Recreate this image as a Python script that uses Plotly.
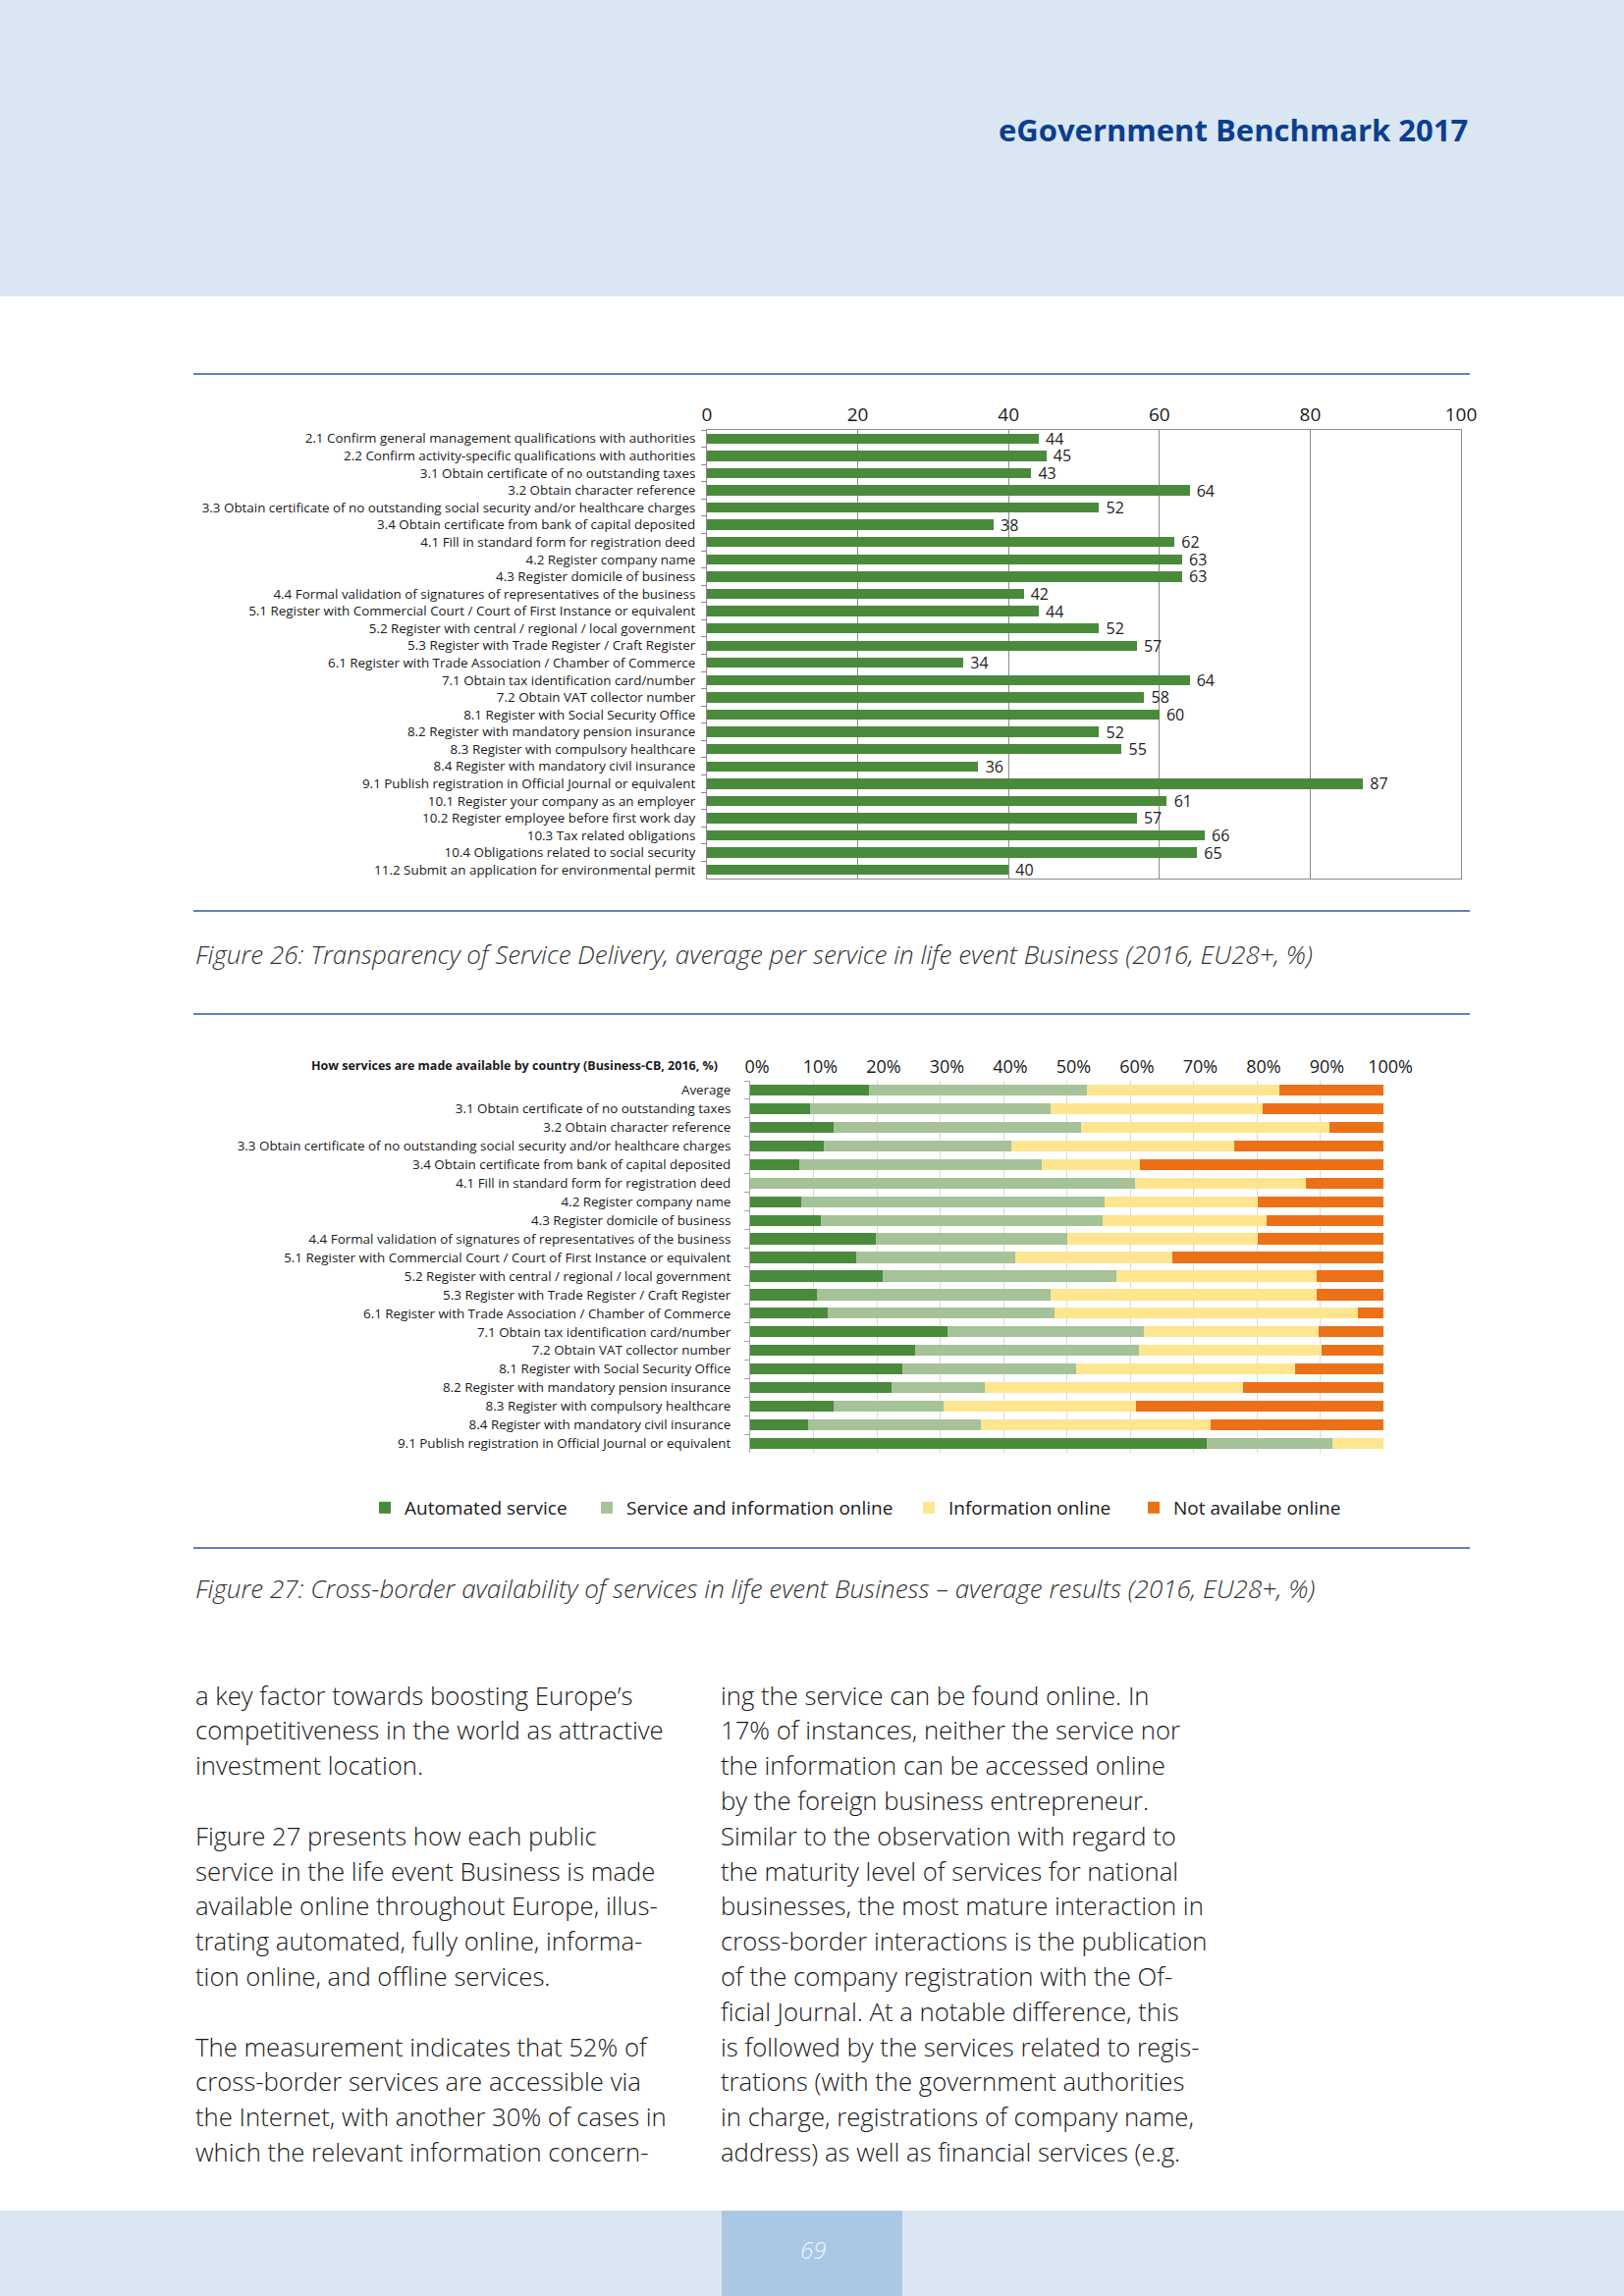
import plotly.graph_objects as go

W, H = 1654, 2339

# ---------------- Data: Figure 26 ----------------
services_transparency = [
    "2.1 Confirm general management qualifications with authorities",
    "2.2 Confirm activity-specific qualifications with authorities",
    "3.1 Obtain certificate of no outstanding taxes",
    "3.2 Obtain character reference",
    "3.3 Obtain certificate of no outstanding social security and/or healthcare charges",
    "3.4 Obtain certificate from bank of capital deposited",
    "4.1 Fill in standard form for registration deed",
    "4.2 Register company name",
    "4.3 Register domicile of business",
    "4.4 Formal validation of signatures of representatives of the business",
    "5.1 Register with Commercial Court / Court of First Instance or equivalent",
    "5.2 Register with central / regional / local government",
    "5.3 Register with Trade Register / Craft Register",
    "6.1 Register with Trade Association / Chamber of Commerce",
    "7.1 Obtain tax identification card/number",
    "7.2 Obtain VAT collector number",
    "8.1 Register with Social Security Office",
    "8.2 Register with mandatory pension insurance",
    "8.3 Register with compulsory healthcare",
    "8.4 Register with mandatory civil insurance",
    "9.1 Publish registration in Official Journal or equivalent",
    "10.1 Register your company as an employer",
    "10.2 Register employee before first work day",
    "10.3 Tax related obligations",
    "10.4 Obligations related to social security",
    "11.2 Submit an application for environmental permit",
]
transparency_scores = [44, 45, 43, 64, 52, 38, 62, 63, 63, 42, 44, 52, 57, 34,
                       64, 58, 60, 52, 55, 36, 87, 61, 57, 66, 65, 40]

# ---------------- Data: Figure 27 ----------------
services_crossborder = [
    "Average",
    "3.1 Obtain certificate of no outstanding taxes",
    "3.2 Obtain character reference",
    "3.3 Obtain certificate of no outstanding social security and/or healthcare charges",
    "3.4 Obtain certificate from bank of capital deposited",
    "4.1 Fill in standard form for registration deed",
    "4.2 Register company name",
    "4.3 Register domicile of business",
    "4.4 Formal validation of signatures of representatives of the business",
    "5.1 Register with Commercial Court / Court of First Instance or equivalent",
    "5.2 Register with central / regional / local government",
    "5.3 Register with Trade Register / Craft Register",
    "6.1 Register with Trade Association / Chamber of Commerce",
    "7.1 Obtain tax identification card/number",
    "7.2 Obtain VAT collector number",
    "8.1 Register with Social Security Office",
    "8.2 Register with mandatory pension insurance",
    "8.3 Register with compulsory healthcare",
    "8.4 Register with mandatory civil insurance",
    "9.1 Publish registration in Official Journal or equivalent",
]
automated_service = [18.7, 9.4, 13.1, 11.7, 7.8, 0.0, 8.0, 11.1, 19.9, 16.7,
                     21.0, 10.5, 12.2, 31.1, 26.0, 24.1, 22.3, 13.1, 9.1, 72.1]
service_and_info_online = [34.4, 38.1, 39.1, 29.5, 38.3, 60.7, 47.9, 44.5, 30.1, 25.1,
                           36.8, 36.9, 35.8, 31.0, 35.4, 27.4, 14.7, 17.4, 27.3, 19.9]
information_online = [30.5, 33.4, 39.2, 35.3, 15.4, 27.1, 24.2, 25.9, 30.1, 24.8,
                      31.7, 42.1, 47.9, 27.6, 28.9, 34.6, 40.8, 30.4, 36.3, 8.0]
not_available_online = [16.4, 19.1, 8.6, 23.5, 38.5, 12.2, 19.9, 18.5, 19.9, 33.4,
                        10.5, 10.5, 4.1, 10.3, 9.7, 13.9, 22.2, 39.1, 27.3, 0.0]
series_names = ["Automated service", "Service and information online",
                "Information online", "Not availabe online"]

# ---------------- Text ----------------
header_title = "eGovernment Benchmark 2017"
caption_26 = "Figure 26: Transparency of Service Delivery, average per service in life event Business (2016, EU28+, %)"
caption_27 = "Figure 27: Cross-border availability of services in life event Business – average results (2016, EU28+, %)"
chart2_title = "How services are made available by country (Business-CB, 2016, %)"
left_column = {
    0: "a key factor towards boosting Europe’s",
    1: "competitiveness in the world as attractive",
    2: "investment location.",
    4: "Figure 27 presents how each public",
    5: "service in the life event Business is made",
    6: "available online throughout Europe, illus-",
    7: "trating automated, fully online, informa-",
    8: "tion online, and offline services.",
    10: "The measurement indicates that 52% of",
    11: "cross-border services are accessible via",
    12: "the Internet, with another 30% of cases in",
    13: "which the relevant information concern-",
}
right_column = {
    0: "ing the service can be found online. In",
    1: "17% of instances, neither the service nor",
    2: "the information can be accessed online",
    3: "by the foreign business entrepreneur.",
    4: "Similar to the observation with regard to",
    5: "the maturity level of services for national",
    6: "businesses, the most mature interaction in",
    7: "cross-border interactions is the publication",
    8: "of the company registration with the Of-",
    9: "ficial Journal. At a notable difference, this",
    10: "is followed by the services related to regis-",
    11: "trations (with the government authorities",
    12: "in charge, registrations of company name,",
    13: "address) as well as financial services (e.g.",
}
page_number = "69"

# ---------------- Styles ----------------
GREEN = "#4a8a3b"
LIGHT_GREEN = "#a6c298"
YELLOW = "#fee690"
ORANGE = "#ec7018"
BAND = "#dae6f2"
RULE = "#2a58a0"
FONT = "Open Sans, Noto Sans, sans-serif"
NUMFONT = "Liberation Sans Narrow, Open Sans, sans-serif"
LEGEND_X = [372, 598, 926, 1155]
CAT_FONT_SIZE = 13.4
BODY_FONT_SIZE = 25.7
CAPTION_FONT_SIZE = 26


def px(x):
    return x / W


def py(y):
    return 1 - y / H


fig = go.Figure()

fig.add_trace(go.Bar(
    y=services_transparency, x=transparency_scores, orientation="h",
    marker=dict(color=GREEN, line=dict(width=0)),
    texttemplate="\u00a0%{x}", textposition="outside", constraintext="none",
    textfont=dict(family=NUMFONT, size=16, color="#222222"),
    cliponaxis=False, showlegend=False, xaxis="x", yaxis="y",
))

legend_ids = ["legend", "legend2", "legend3", "legend4"]
for name, vals, color, lg in zip(series_names,
                                 [automated_service, service_and_info_online,
                                  information_online, not_available_online],
                                 [GREEN, LIGHT_GREEN, YELLOW, ORANGE], legend_ids):
    fig.add_trace(go.Bar(
        y=services_crossborder, x=vals, orientation="h", name=name,
        marker=dict(color=color, line=dict(width=0)),
        xaxis="x2", yaxis="y2", legend=lg,
    ))

shapes = [
    dict(type="rect", xref="paper", yref="paper", x0=0, x1=1, y0=py(302), y1=1,
         fillcolor=BAND, line=dict(width=0), layer="below"),
    dict(type="rect", xref="paper", yref="paper", x0=0, x1=1, y0=0, y1=py(2252),
         fillcolor=BAND, line=dict(width=0), layer="below"),
    dict(type="rect", xref="paper", yref="paper", x0=px(735), x1=px(919), y0=0, y1=py(2252),
         fillcolor="#aac8e4", line=dict(width=0), layer="below"),
]
for yy in [381, 928, 1033, 1577]:
    shapes.append(dict(type="line", xref="paper", yref="paper", x0=px(197), x1=px(1497),
                       y0=py(yy), y1=py(yy), line=dict(color=RULE, width=1.5)))

annotations = [
    dict(text=header_title, x=px(1497), y=py(132), xanchor="right", yanchor="middle",
         font=dict(family=FONT, size=31, color="#0b3f8f", weight=700)),
    dict(text=chart2_title, x=px(733), y=py(1085), xanchor="right", yanchor="middle",
         font=dict(family=FONT, size=12.5, color="#1a1a1a", weight=700)),
    dict(text=caption_26, x=px(197), y=py(972), xanchor="left", yanchor="middle",
         font=dict(family=FONT, size=CAPTION_FONT_SIZE, color="#333333", style="italic", weight=300)),
    dict(text=caption_27, x=px(197), y=py(1618), xanchor="left", yanchor="middle",
         font=dict(family=FONT, size=CAPTION_FONT_SIZE, color="#333333", style="italic", weight=300)),
    dict(text=page_number, x=px(828), y=py(2291), xanchor="center", yanchor="middle",
         font=dict(family=FONT, size=24, color="#f2f6fb", style="italic", weight=300)),
]
for idx, line in left_column.items():
    annotations.append(dict(text=line, x=px(197), y=py(1727 + idx * 35.8),
                            xanchor="left", yanchor="middle",
                            font=dict(family=FONT, size=BODY_FONT_SIZE, color="#1a1a1a", weight=300)))
for idx, line in right_column.items():
    annotations.append(dict(text=line, x=px(732), y=py(1727 + idx * 35.8),
                            xanchor="left", yanchor="middle",
                            font=dict(family=FONT, size=BODY_FONT_SIZE, color="#1a1a1a", weight=300)))
for a in annotations:
    a.update(xref="paper", yref="paper", showarrow=False)

legend_common = dict(orientation="h", xanchor="left", y=py(1536), yanchor="middle",
                     font=dict(family=FONT, size=19, color="#1a1a1a"),
                     bgcolor="rgba(0,0,0,0)", itemclick=False, itemdoubleclick=False)

fig.update_layout(
    template="none",
    width=W, height=H, autosize=False,
    margin=dict(l=0, r=0, t=0, b=0, pad=0, autoexpand=False),
    paper_bgcolor="white", plot_bgcolor="white",
    barmode="stack", bargap=0.41,
    font=dict(family=FONT, color="#1a1a1a"),
    shapes=shapes, annotations=annotations,
    xaxis=dict(domain=[px(720), px(1488)], range=[0, 100], side="top", dtick=20,
               showgrid=True, gridcolor="#8c8c8c", gridwidth=1, zeroline=False,
               showline=True, linecolor="#8c8c8c", linewidth=1, mirror=True,
               ticks="", tickfont=dict(family=NUMFONT, size=19, color="#1a1a1a"),
               anchor="y", fixedrange=True, automargin=False),
    yaxis=dict(domain=[py(895), py(438)], autorange="reversed", type="category",
               showline=True, linecolor="#8c8c8c", linewidth=1, mirror=True,
               ticks="outside", tickson="boundaries", ticklen=5, tickcolor="#8c8c8c",
               ticklabelstandoff=8,
               tickfont=dict(family=FONT, size=CAT_FONT_SIZE, color="#1a1a1a"),
               showgrid=False, anchor="x", fixedrange=True, automargin=False),
    xaxis2=dict(domain=[px(764), px(1409)], range=[0, 100], side="top", dtick=10,
                ticksuffix="%", showgrid=True, gridcolor="#d9d9d9", gridwidth=1,
                zeroline=False, showline=False, ticks="", ticklabelshift=7,
                ticklabelstandoff=3,
                tickfont=dict(family=NUMFONT, size=18, color="#1a1a1a"),
                anchor="y2", fixedrange=True, automargin=False),
    yaxis2=dict(domain=[py(1480), py(1101)], autorange="reversed", type="category",
                showline=True, linecolor="#a6a6a6", linewidth=1,
                ticks="outside", tickson="boundaries", ticklen=5, tickcolor="#a6a6a6",
                ticklabelstandoff=16,
                tickfont=dict(family=FONT, size=CAT_FONT_SIZE, color="#1a1a1a"),
                showgrid=False, anchor="x2", fixedrange=True, automargin=False),
    legend=dict(x=px(LEGEND_X[0]), **legend_common),
    legend2=dict(x=px(LEGEND_X[1]), **legend_common),
    legend3=dict(x=px(LEGEND_X[2]), **legend_common),
    legend4=dict(x=px(LEGEND_X[3]), **legend_common),
)

fig.write_html(
    "out.html",
    config={"displayModeBar": False, "responsive": False},
    post_script=("document.documentElement.style.margin='0';"
                 "document.body.style.margin='0';"
                 "document.body.style.overflow='hidden';"
                 "document.documentElement.style.overflow='hidden';"),
)
